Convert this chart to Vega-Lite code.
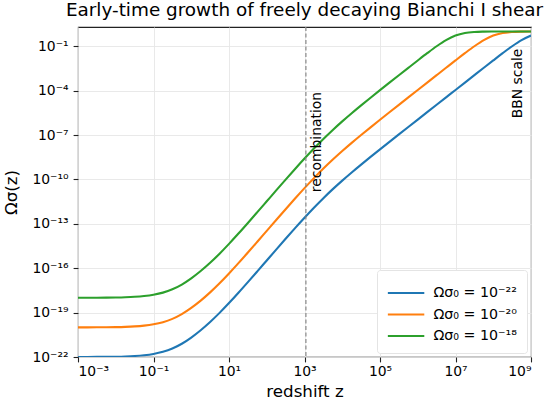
{
  "$schema": "https://vega.github.io/schema/vega-lite/v6.json",
  "autosize": {"type": "none"},
  "padding": {"left": 78, "top": 27, "right": 19, "bottom": 46},
  "width": 453,
  "height": 330,
  "title": {
    "text": "Early-time growth of freely decaying Bianchi I shear",
    "font": "DejaVu Sans",
    "fontSize": 18.4,
    "fontWeight": "normal",
    "color": "#000",
    "anchor": "middle",
    "baseline": "bottom",
    "offset": 5,
    "dy": 17
  },
  "config": {
    "view": {"stroke": "#222", "strokeWidth": 1.1},
    "axis": {
      "domain": false,
      "labelFont": "DejaVu Sans",
      "labelFontSize": 13.9,
      "labelColor": "#000",
      "titleFont": "DejaVu Sans",
      "titleFontSize": 16.7,
      "titleFontWeight": "normal",
      "titleColor": "#000",
      "tickColor": "#222",
      "tickSize": 4.9,
      "tickWidth": 1.1,
      "gridColor": "#e6e6e6",
      "gridWidth": 0.9
    }
  },
  "layer": [
    {
      "data": {
        "values": [
          {"z": 0.001, "k22": 1.00502e-22, "k20": 1.00502e-20, "k18": 1.00502e-18},
          {"z": 0.0017783, "k22": 1.00901e-22, "k20": 1.00901e-20, "k18": 1.00901e-18},
          {"z": 0.0031623, "k22": 1.01613e-22, "k20": 1.01613e-20, "k18": 1.01613e-18},
          {"z": 0.0056234, "k22": 1.02888e-22, "k20": 1.02888e-20, "k18": 1.02888e-18},
          {"z": 0.01, "k22": 1.05183e-22, "k20": 1.05183e-20, "k18": 1.05183e-18},
          {"z": 0.017783, "k22": 1.09365e-22, "k20": 1.09365e-20, "k18": 1.09365e-18},
          {"z": 0.031623, "k22": 1.17101e-22, "k20": 1.17101e-20, "k18": 1.17101e-18},
          {"z": 0.056234, "k22": 1.3179e-22, "k20": 1.3179e-20, "k18": 1.3179e-18},
          {"z": 0.1, "k22": 1.61205e-22, "k20": 1.61205e-20, "k18": 1.61205e-18},
          {"z": 0.17783, "k22": 2.24324e-22, "k20": 2.24324e-20, "k18": 2.24324e-18},
          {"z": 0.31623, "k22": 3.75621e-22, "k20": 3.75621e-20, "k18": 3.75621e-18},
          {"z": 0.56234, "k22": 7.88373e-22, "k20": 7.88373e-20, "k18": 7.88373e-18},
          {"z": 1, "k22": 2.06369e-21, "k20": 2.06369e-19, "k18": 2.06369e-17},
          {"z": 1.7783, "k22": 6.44216e-21, "k20": 6.44216e-19, "k18": 6.44216e-17},
          {"z": 3.1623, "k22": 2.32546e-20, "k20": 2.32546e-18, "k18": 2.32546e-16},
          {"z": 5.6234, "k22": 9.58972e-20, "k20": 9.58972e-18, "k18": 9.58972e-16},
          {"z": 10, "k22": 4.41511e-19, "k20": 4.41511e-17, "k18": 4.41511e-15},
          {"z": 17.783, "k22": 2.19597e-18, "k20": 2.19597e-16, "k18": 2.19597e-14},
          {"z": 31.623, "k22": 1.14602e-17, "k20": 1.14602e-15, "k18": 1.14602e-13},
          {"z": 56.234, "k22": 6.14413e-17, "k20": 6.14413e-15, "k18": 6.14413e-13},
          {"z": 100, "k22": 3.33279e-16, "k20": 3.33279e-14, "k18": 3.33279e-12},
          {"z": 177.83, "k22": 1.80947e-15, "k20": 1.80947e-13, "k18": 1.80947e-11},
          {"z": 316.23, "k22": 9.7164e-15, "k20": 9.7164e-13, "k18": 9.7164e-11},
          {"z": 562.34, "k22": 5.09751e-14, "k20": 5.09751e-12, "k18": 5.09751e-10},
          {"z": 1000, "k22": 2.57129e-13, "k20": 2.57129e-11, "k18": 2.57129e-9},
          {"z": 1778.3, "k22": 1.22412e-12, "k20": 1.22412e-10, "k18": 1.22412e-8},
          {"z": 3162.3, "k22": 5.41325e-12, "k20": 5.41325e-10, "k18": 5.41325e-8},
          {"z": 5623.4, "k22": 2.20716e-11, "k20": 2.20716e-9, "k18": 2.20716e-7},
          {"z": 10000, "k22": 8.33322e-11, "k20": 8.33322e-9, "k18": 8.33322e-7},
          {"z": 17783, "k22": 2.96025e-10, "k20": 2.96025e-8, "k18": 2.96025e-6},
          {"z": 31623, "k22": 1.00522e-9, "k20": 1.00522e-7, "k18": 1.00522e-5},
          {"z": 56234, "k22": 3.31651e-9, "k20": 3.31651e-7, "k18": 3.31651e-5},
          {"z": 100000, "k22": 1.07524e-8, "k20": 1.07524e-6, "k18": 1.07524e-4},
          {"z": 177828, "k22": 3.44847e-8, "k20": 3.44847e-6, "k18": 3.44847e-4},
          {"z": 316228, "k22": 1.09957e-7, "k20": 1.09957e-5, "k18": 1.0984e-3},
          {"z": 562341, "k22": 3.49241e-7, "k20": 3.49241e-5, "k18": 3.4803e-3},
          {"z": 1000000, "k22": 1.10747e-6, "k20": 1.10747e-4, "k18": 0.010953},
          {"z": 1778279, "k22": 3.50654e-6, "k20": 3.50654e-4, "k18": 0.033877},
          {"z": 3162278, "k22": 1.10999e-5, "k20": 1.10876e-3, "k18": 0.099909},
          {"z": 5623413, "k22": 3.51119e-5, "k20": 3.49891e-3, "k18": 0.25987},
          {"z": 10000000, "k22": 1.11079e-4, "k20": 0.010986, "k18": 0.52624},
          {"z": 17782794, "k22": 3.51253e-4, "k20": 0.033933, "k18": 0.77839},
          {"z": 31622777, "k22": 1.10981e-3, "k20": 0.099994, "k18": 0.91743},
          {"z": 56234133, "k22": 3.50069e-3, "k20": 0.25997, "k18": 0.97232},
          {"z": 100000000, "k22": 0.010989, "k20": 0.52631, "k18": 0.99108},
          {"z": 177827941, "k22": 0.033939, "k20": 0.77842, "k18": 0.99716},
          {"z": 316227766, "k22": 0.1, "k20": 0.91743, "k18": 0.9991},
          {"z": 562341325, "k22": 0.25998, "k20": 0.97232, "k18": 0.99972},
          {"z": 1000000000, "k22": 0.52632, "k20": 0.99108, "k18": 0.99991}
        ]
      },
      "transform": [{"fold": ["k22", "k20", "k18"], "as": ["series", "omega"]}],
      "mark": {"type": "line", "strokeWidth": 2.1, "interpolate": "monotone", "clip": true},
      "encoding": {
        "x": {
          "field": "z",
          "type": "quantitative",
          "scale": {"type": "log", "domain": [0.001, 1000000000], "nice": false},
          "axis": {
            "title": "redshift z",
            "values": [0.001, 0.1, 10, 1000, 100000, 10000000, 1000000000],
            "labelPadding": 3,
            "titlePadding": 5,
            "labelExpr": "'10' + (round(log(datum.value)/LN10) < 0 ? '⁻' : '') + (abs(round(log(datum.value)/LN10)) >= 10 ? ['⁰','¹','²','³','⁴','⁵','⁶','⁷','⁸','⁹'][floor(abs(round(log(datum.value)/LN10))/10)] : '') + ['⁰','¹','²','³','⁴','⁵','⁶','⁷','⁸','⁹'][abs(round(log(datum.value)/LN10)) % 10]"
          }
        },
        "y": {
          "field": "omega",
          "type": "quantitative",
          "scale": {"type": "log", "domain": [1e-22, 2], "nice": false},
          "axis": {
            "title": "Ωσ(z)",
            "values": [1e-22, 1e-19, 1e-16, 1e-13, 1e-10, 1e-7, 1e-4, 1e-1],
            "labelPadding": 5,
            "titlePadding": 11,
            "labelExpr": "'10' + (round(log(datum.value)/LN10) < 0 ? '⁻' : '') + (abs(round(log(datum.value)/LN10)) >= 10 ? ['⁰','¹','²','³','⁴','⁵','⁶','⁷','⁸','⁹'][floor(abs(round(log(datum.value)/LN10))/10)] : '') + ['⁰','¹','²','³','⁴','⁵','⁶','⁷','⁸','⁹'][abs(round(log(datum.value)/LN10)) % 10]"
          }
        },
        "color": {
          "field": "series",
          "type": "nominal",
          "scale": {"domain": ["k22", "k20", "k18"], "range": ["#1f77b4", "#ff7f0e", "#2ca02c"]},
          "legend": {
            "title": null,
            "orient": "bottom-right",
            "offset": 4.5,
            "fillColor": "#ffffff",
            "strokeColor": "#e4e4e4",
            "cornerRadius": 3,
            "padding": 9.5,
            "symbolType": "M-1,0H2",
            "symbolSize": 590,
            "symbolStrokeWidth": 2.1,
            "labelFont": "DejaVu Sans",
            "labelFontSize": 14.2,
            "labelColor": "#000",
            "labelOffset": 20,
            "rowPadding": 0.5,
            "labelExpr": "datum.value == 'k22' ? 'Ωσ₀ = 10⁻²²' : datum.value == 'k20' ? 'Ωσ₀ = 10⁻²⁰' : 'Ωσ₀ = 10⁻¹⁸'"
          }
        }
      }
    },
    {
      "data": {"values": [{}]},
      "mark": {"type": "rule", "color": "#808080", "strokeWidth": 1.1, "strokeDash": [4, 2.5]},
      "encoding": {"x": {"datum": 1090}}
    },
    {
      "data": {"values": [{}]},
      "mark": {"type": "text", "angle": 270, "align": "left", "baseline": "middle", "font": "DejaVu Sans", "fontSize": 13.9, "color": "#000"},
      "encoding": {
        "x": {"datum": 2140},
        "y": {"datum": 1.38e-11},
        "text": {"value": "recombination"}
      }
    },
    {
      "data": {"values": [{}]},
      "mark": {"type": "text", "angle": 270, "align": "left", "baseline": "middle", "font": "DejaVu Sans", "fontSize": 13.9, "color": "#000"},
      "encoding": {
        "x": {"datum": 460000000},
        "y": {"datum": 1.35e-6},
        "text": {"value": "BBN scale"}
      }
    }
  ]
}
